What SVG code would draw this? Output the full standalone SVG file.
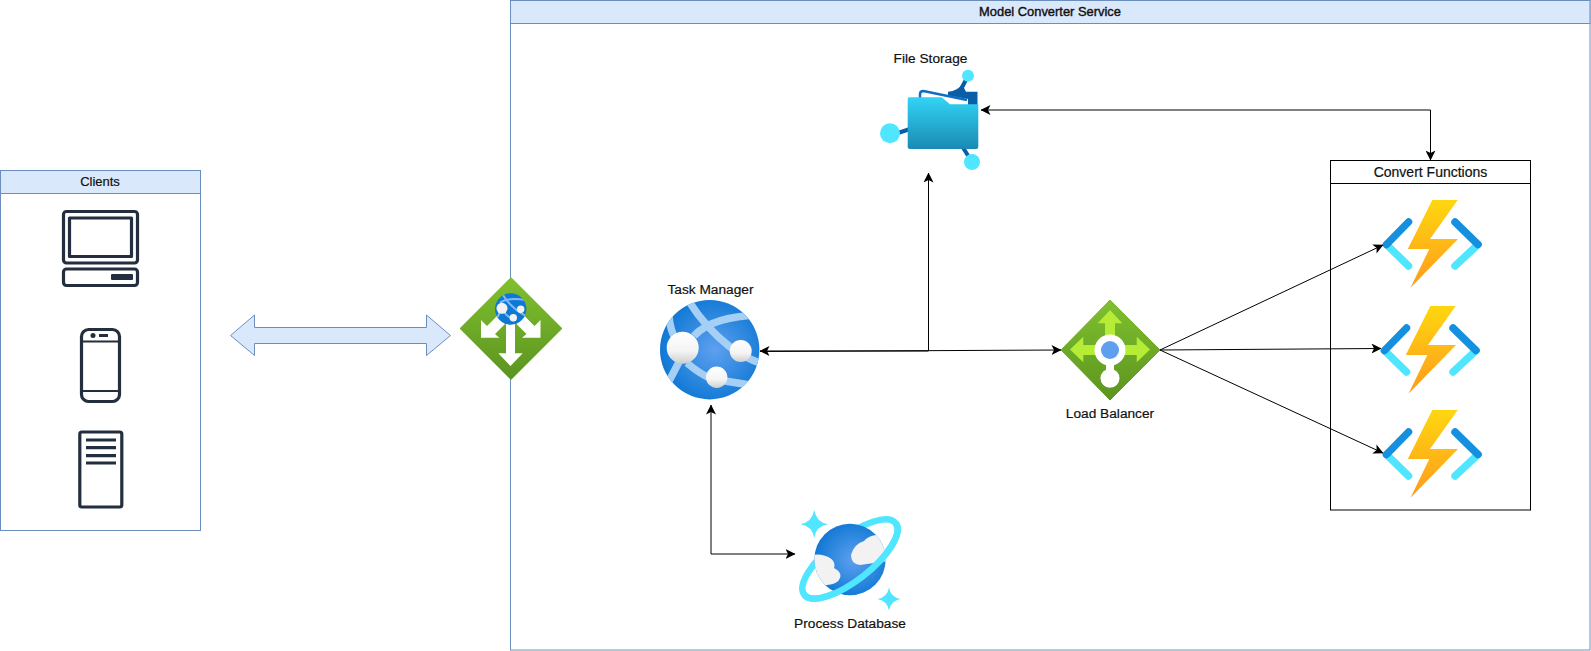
<svg xmlns="http://www.w3.org/2000/svg" width="1591" height="651" viewBox="0 0 1591 651">
<style>
text{font-family:"Liberation Sans",Arial,sans-serif;font-size:13.7px;fill:#111;stroke:#111;stroke-width:.2;text-anchor:middle}
.pool{fill:#fff;stroke:#6c8ebf;stroke-width:1}
.head{fill:#dae8fc;stroke:#6c8ebf;stroke-width:1}
.ic{fill:none;stroke:#232f3e;stroke-width:3.200;stroke-linejoin:round}
.ln{fill:#232f3e}
.c{fill:none;stroke:#000;stroke-width:1}
.w{fill:#fff}
.band{fill:none;stroke:#a6cff5;stroke-width:7.500}
.gband{fill:none;stroke:#83b9f9;stroke-width:2}
.dk{stroke:#1490df;stroke-width:7.500;stroke-linecap:round;fill:none}
.lt{stroke:#50e6ff;stroke-width:7.500;stroke-linecap:round;fill:none}
</style>
<defs>
<marker id="a" viewBox="0 0 10 10" refX="9.500" refY="5" markerWidth="10" markerHeight="10" markerUnits="userSpaceOnUse" orient="auto-start-reverse"><path d="M0 0L10 5L0 10L2.500 5Z" fill="#000"/></marker>
<linearGradient id="g" x1="0" y1="0" x2="0" y2="1"><stop offset="0" stop-color="#80c02f"/><stop offset="1" stop-color="#5b9420"/></linearGradient>
<radialGradient id="b" cx=".55" cy=".5" r=".55"><stop offset="0" stop-color="#5ea0ef"/><stop offset="1" stop-color="#0f78d4"/></radialGradient>
<linearGradient id="n" x1="0" y1="0" x2="0" y2="1"><stop offset="0" stop-color="#fff"/><stop offset=".6" stop-color="#f4f4f4"/><stop offset="1" stop-color="#cfcfcf"/></linearGradient>
<linearGradient id="f" x1="0" y1="0" x2="0" y2="1"><stop offset="0" stop-color="#32d4f5"/><stop offset="1" stop-color="#198ab3"/></linearGradient>
<linearGradient id="y" x1="0" y1="0" x2="0" y2="1"><stop offset="0" stop-color="#fed70f"/><stop offset="1" stop-color="#fe9a1e"/></linearGradient>
<clipPath id="tm"><circle cx="709.700" cy="349.700" r="49.700"/></clipPath>
<clipPath id="gw"><circle cx="510.700" cy="309" r="15.700"/></clipPath>
<clipPath id="db"><circle cx="850" cy="559.500" r="35.700"/></clipPath>
<g id="fn">
<path class="lt" d="M1386.500 244.500L1408.500 266"/>
<path class="dk" d="M1386.500 244.500L1408.500 222"/>
<path class="lt" d="M1478 244.500L1455 266"/>
<path class="dk" d="M1478 244.500L1455 222"/>
<path d="M1432.300 200H1457.700L1430 239H1458L1410.500 287.700L1429.300 249H1407.800Z" fill="url(#y)"/>
</g>
</defs>

<g id="clients">
<rect class="pool" x="0.500" y="170.500" width="200" height="360"/>
<rect class="head" x="0.500" y="170.500" width="200" height="23"/>
<text x="100" y="186" style="font-size:13px">Clients</text>
<rect class="ic" x="63.500" y="211.500" width="74" height="51.500" rx="3"/>
<rect class="ic" x="69.500" y="218" width="62" height="38.500"/>
<rect class="ic" x="63.500" y="269" width="74" height="16.500" rx="3"/>
<rect class="ln" x="111" y="274" width="22" height="6" rx="1"/>
<rect class="ic" x="81.500" y="329.500" width="38" height="72" rx="7"/>
<path class="ic" d="M81.500 341.500H119.500M81.500 391H119.500" style="stroke-width:2"/>
<circle class="ln" cx="93" cy="335.500" r="2.500"/>
<rect class="ln" x="99" y="334" width="9" height="3"/>
<rect class="ic" x="79.800" y="432" width="42" height="75" rx="2"/>
<path class="ic" d="M86 440H116M86 447.700H116M86 455.700H116M86 463H116"/>
</g>

<g id="service">
<rect class="pool" x="510.500" y="0.500" width="1079.500" height="649.500"/>
<rect class="head" x="510.500" y="0.500" width="1079.500" height="23"/>
<text x="1050" y="16" style="font-size:12.900px;stroke-width:.4">Model Converter Service</text>
</g>

<g id="convert-functions">
<rect x="1330.500" y="160.500" width="200" height="349.500" fill="#fff" stroke="#000"/>
<rect x="1330.500" y="160.500" width="200" height="23" fill="#fff" stroke="#000"/>
<text x="1430.500" y="176.500" style="font-size:14px">Convert Functions</text>
<use href="#fn"/>
<use href="#fn" transform="translate(-2 106)"/>
<use href="#fn" transform="translate(0 210)"/>
</g>

<g id="connectors">
<path d="M254.500 327.500H426.500V315L450.500 335.500L426.500 355.500V343.500H254.500V355.500L230.500 335.500L254.500 315Z" fill="#dae8fc" stroke="#6c8ebf"/>
<path class="c" d="M760 351H928.500" marker-start="url(#a)"/>
<path class="c" d="M760 351.500L1061 350" marker-end="url(#a)"/>
<path class="c" d="M928.500 351V173" marker-end="url(#a)"/>
<path class="c" d="M981 110H1430.500V160" marker-start="url(#a)" marker-end="url(#a)"/>
<path class="c" d="M711 405V554H795" marker-start="url(#a)" marker-end="url(#a)"/>
<path class="c" d="M1160 350L1383 245" marker-end="url(#a)"/>
<path class="c" d="M1160 350L1381 348.500" marker-end="url(#a)"/>
<path class="c" d="M1160 350L1383 453" marker-end="url(#a)"/>
</g>

<g id="gateway">
<path d="M511 278.500L561 328.500L511 378.500L461 328.500Z" fill="url(#g)" stroke="url(#g)" stroke-linejoin="round" stroke-width="2"/>
<path class="w" d="M506 322H515V353.300H522.700L510.500 366L498.300 353.300H506Z"/>
<path class="w" d="M481 320L487 326L497 316L505 324L495 334L499.300 337.700H481Z"/>
<path class="w" d="M540.500 320L534.500 326L524.500 316L516.500 324L526.500 334L522 337.700H540.500Z"/>
<circle cx="510.700" cy="309" r="15.700" fill="#0f78d4"/>
<g clip-path="url(#gw)">
<path class="gband" d="M503 295Q510 307 526 316M500 303Q506 297 526 300M501 310L495 322M504 312Q508 318 516 320"/>
</g>
<circle cx="502" cy="308.300" r="5.500" fill="#f2f2f2"/>
<circle cx="520.700" cy="309.300" r="3.700" fill="#f2f2f2"/>
<circle cx="513.300" cy="317.700" r="3.700" fill="#f2f2f2"/>
</g>

<g id="task-manager">
<text x="710.500" y="294">Task Manager</text>
<circle cx="709.700" cy="349.700" r="49.700" fill="url(#b)"/>
<g clip-path="url(#tm)">
<path class="band" d="M690 303Q706 328 730 347Q745 358 760 363"/>
<path class="band" d="M694 336Q712 316 762 315"/>
<path class="band" d="M669 316Q670 330 676 340"/>
<path class="band" d="M679 362L667 385"/>
<path class="band" d="M687 363Q700 374 710 378"/>
<path class="band" d="M725 381L750 385"/>
</g>
<circle cx="682.700" cy="347.700" r="16" fill="url(#n)"/>
<circle cx="740.700" cy="351" r="11" fill="url(#n)"/>
<circle cx="716.700" cy="377.300" r="10.700" fill="url(#n)"/>
</g>

<g id="file-storage">
<text x="930.500" y="63">File Storage</text>
<path d="M895 134L910 129M968 76L959 93M962 146L972 162" stroke="#0a5ea8" stroke-width="4" fill="none"/>
<path d="M948 91.700Q958 91 962 84L966 91.700H977.500V105H948Z" fill="#0a5ea8"/>
<path d="M925 91.500L968 99V105H925Z" fill="#fff"/>
<path d="M920 98V94Q920 91 923.500 91L967 100" fill="none" stroke="#0f6ec4" stroke-width="2.500"/>
<path d="M909 97.300H941.700L950 104.300H978.300V147Q978.300 149 976 149H910Q907.700 149 907.700 147V99Q907.700 97.300 909 97.300Z" fill="url(#f)"/>
<circle cx="890" cy="133.300" r="10" fill="#50e6ff"/>
<circle cx="968" cy="75.700" r="6" fill="#50e6ff"/>
<circle cx="972" cy="162" r="8" fill="#50e6ff"/>
</g>

<g id="load-balancer">
<path d="M1110 300L1160 350L1110 400L1061 350Z" fill="url(#g)" stroke="url(#g)" stroke-linejoin="round" stroke-width="1"/>
<path d="M1110 310L1122.300 323.300H1115V345H1105V323.300H1097.700Z" fill="#b4ec36"/>
<path d="M1070 349.500L1083.300 336.700V345H1105V355H1083.300V362.300Z" fill="#b4ec36"/>
<path d="M1150 349.500L1136.700 336.700V345H1115V355H1136.700V362.300Z" fill="#b4ec36"/>
<circle class="w" cx="1110" cy="350" r="15.500"/>
<rect class="w" x="1106" y="360" width="8" height="12"/>
<circle class="w" cx="1110" cy="378.300" r="9.500"/>
<circle cx="1110" cy="350" r="9" fill="#5ea0ef"/>
<text x="1110" y="417.500">Load Balancer</text>
</g>

<g id="process-database">
<ellipse cx="0" cy="0" rx="58" ry="21.500" transform="translate(850 559) rotate(-38)" fill="none" stroke="#50e6ff" stroke-width="6.500"/>
<circle cx="850" cy="559.500" r="35.700" fill="url(#b)"/>
<g clip-path="url(#db)" fill="#f2f2f2">
<path d="M812 555Q822 553 830 558Q836 562 834 568Q842 572 840 578Q838 584 827 585L812 590Z"/>
<path d="M888 545Q881 535 876 535Q868 536 864 541Q854 544 851 555Q851 564 860 565L888 561Z"/>
</g>
<path d="M-58 0A58 21.500 0 0 0 58 0" transform="translate(850 559) rotate(-38)" fill="none" stroke="#50e6ff" stroke-width="6.500"/>
<path d="M814.300 510Q816 522 828 524.300Q816 526 814.300 538Q812 526 800.500 524.300Q812 522 814.300 510Z" fill="#50e6ff"/>
<path d="M889 587.500Q890.500 597 900.500 599Q890.500 601 889 610.500Q887.500 601 877.500 599Q887.500 597 889 587.500Z" fill="#50e6ff"/>
<text x="850" y="628">Process Database</text>
</g>
</svg>
